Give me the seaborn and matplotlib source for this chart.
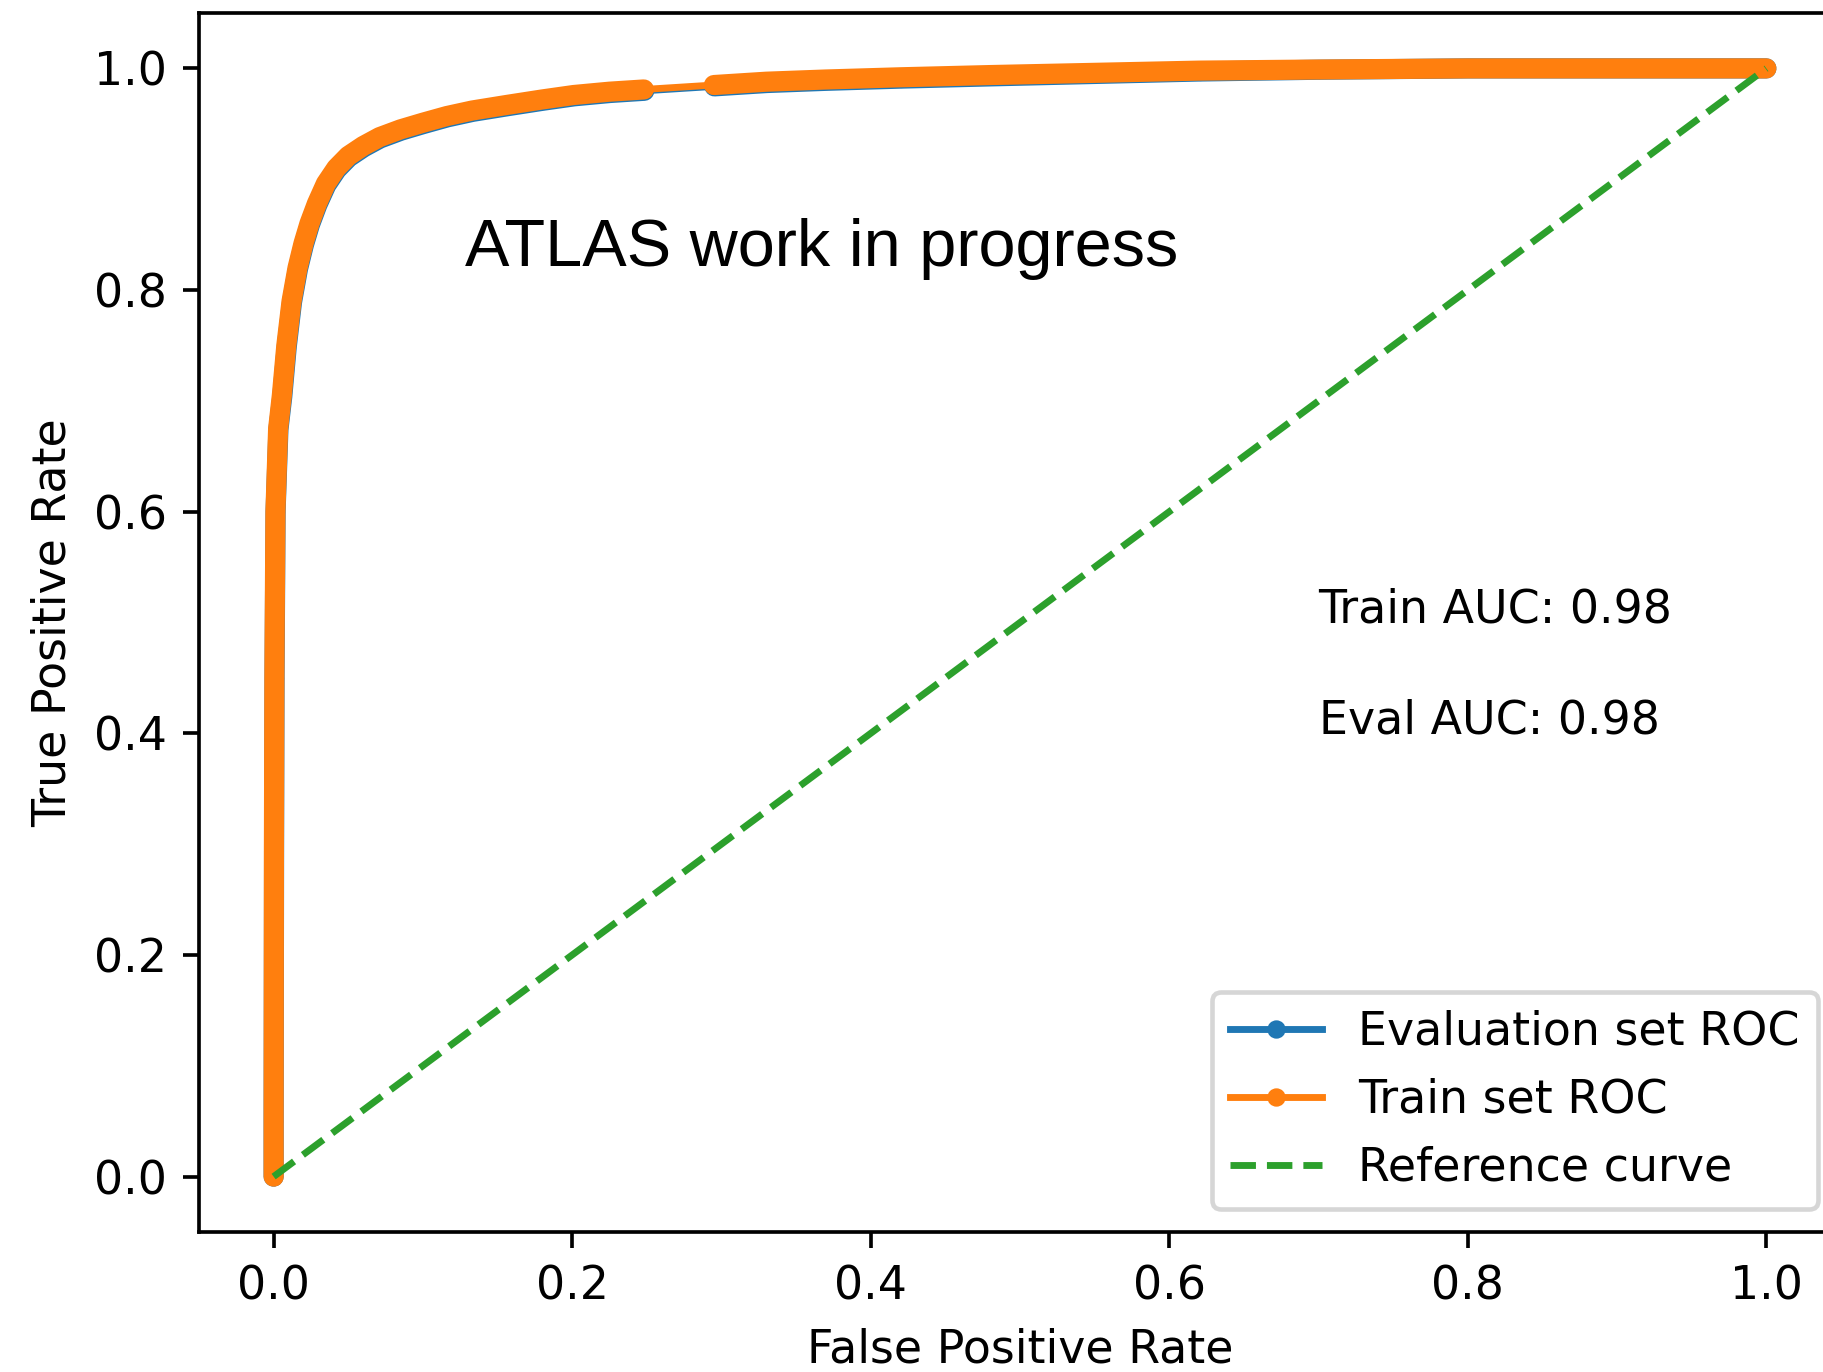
import matplotlib
matplotlib.use("Agg")
import matplotlib.pyplot as plt
from matplotlib.lines import Line2D
import seaborn as sns
import pandas as pd

# ---- data ----
train_fpr = [0.0, 0.0, 0.0002, 0.0005, 0.0012, 0.003, 0.0055, 0.0085, 0.012, 0.016,
             0.020, 0.024, 0.029, 0.035, 0.042, 0.050, 0.060, 0.071, 0.085, 0.100,
             0.116, 0.133, 0.156, 0.180, 0.201, 0.225, 0.248,
             0.295, 0.330, 0.370, 0.420, 0.480, 0.550, 0.620, 0.700, 0.800, 0.900, 1.0]
train_tpr = [0.0, 0.05, 0.30, 0.45, 0.60, 0.675, 0.705, 0.75, 0.79, 0.82,
             0.842, 0.860, 0.878, 0.896, 0.910, 0.921, 0.930, 0.938, 0.945, 0.951,
             0.957, 0.962, 0.967, 0.972, 0.976, 0.979, 0.981,
             0.985, 0.988, 0.990, 0.992, 0.994, 0.996, 0.998, 0.999, 1.0, 1.0, 1.0]

eval_fpr = [0.0, 0.0, 0.0003, 0.0006, 0.0013, 0.0032, 0.0058, 0.0088, 0.0123, 0.0163,
            0.0203, 0.0243, 0.0293, 0.0353, 0.0423, 0.0503, 0.0603, 0.0713, 0.0853, 0.1003,
            0.1163, 0.1333, 0.1563, 0.1803, 0.2013, 0.2253, 0.2483,
            0.2953, 0.3303, 0.3703, 0.4203, 0.4803, 0.5503, 0.6203, 0.7003, 0.8003, 0.9003, 1.0]
eval_tpr = [0.0, 0.05, 0.30, 0.45, 0.60, 0.674, 0.704, 0.749, 0.789, 0.819,
            0.841, 0.859, 0.877, 0.8948, 0.9088, 0.9198, 0.9288, 0.9368, 0.9438, 0.9498,
            0.9558, 0.9608, 0.9658, 0.9708, 0.9748, 0.9778, 0.9798,
            0.9838, 0.9868, 0.9888, 0.9908, 0.9928, 0.9950, 0.9972, 0.9988, 1.0, 1.0, 1.0]

ref_x = [0.0, 1.0]
ref_y = [0.0, 1.0]

gap_lo = 0.25   # sparse region of the curves (thin line) starts here

labels = ["Evaluation set ROC", "Train set ROC", "Reference curve"]
train_auc_text = "Train AUC: 0.98"
eval_auc_text = "Eval AUC: 0.98"
watermark = "ATLAS work in progress"
x_ticks = [0.0, 0.2, 0.4, 0.6, 0.8, 1.0]
y_ticks = [0.0, 0.2, 0.4, 0.6, 0.8, 1.0]

# ---- figure ----
plt.rcdefaults()
DPI = 330
fig = plt.figure(figsize=(1823 / DPI, 1372 / DPI), dpi=DPI)
ax = fig.add_axes([199 / 1823, 140 / 1372, 1642 / 1823, 1219 / 1372])

blue, orange, green = "#1f77b4", "#ff7f0e", "#2ca02c"


def make_df(fpr, tpr):
    df = pd.DataFrame({"fpr": fpr, "tpr": tpr})
    df["seg"] = (df["fpr"] > gap_lo).astype(int)
    return df


df_eval = make_df(eval_fpr, eval_tpr)
df_train = make_df(train_fpr, train_tpr)

for df, col in [(df_eval, blue), (df_train, orange)]:
    # dense-marker "tube" segments
    sns.lineplot(data=df, x="fpr", y="tpr", units="seg", estimator=None, sort=False,
                 color=col, linewidth=4.4, solid_capstyle="round",
                 solid_joinstyle="round", ax=ax, legend=False)
    # underlying thin line with point markers
    sns.lineplot(data=df, x="fpr", y="tpr", estimator=None, sort=False,
                 color=col, linewidth=1.5, marker=".", markersize=6,
                 markeredgecolor=col, ax=ax, legend=False)

sns.lineplot(x=ref_x, y=ref_y, color=green, linestyle="--", linewidth=1.5,
             ax=ax, legend=False)

ax.set_xlim(-0.05, 1.05)
ax.set_ylim(-0.05, 1.05)
ax.set_xticks(x_ticks)
ax.set_yticks(y_ticks)
ax.set_xlabel("False Positive Rate")
ax.set_ylabel("True Positive Rate")

ax.text(0.7, 0.5, train_auc_text, fontsize=10)
ax.text(0.7, 0.4, eval_auc_text, fontsize=10)
ax.text(0.128, 0.822, watermark, fontsize=14.55, family=["Liberation Sans", "DejaVu Sans"])

handles = [
    Line2D([], [], color=blue, marker=".", linewidth=1.5, markersize=6),
    Line2D([], [], color=orange, marker=".", linewidth=1.5, markersize=6),
    Line2D([], [], color=green, linestyle="--", linewidth=1.5),
]
ax.legend(handles, labels, loc="lower right")

fig.savefig("out.png", dpi=DPI)
